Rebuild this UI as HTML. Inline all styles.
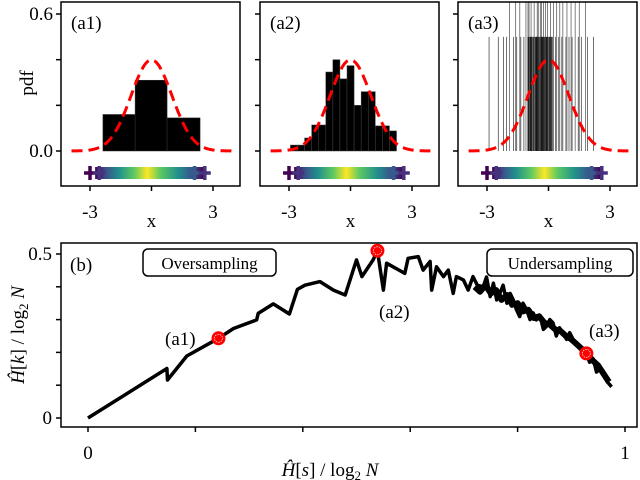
<!DOCTYPE html>
<html><head><meta charset="utf-8"><style>
body{margin:0;background:#fff}
svg{display:block;font-family:"Liberation Serif",serif}
</style></head><body>
<svg id="fig" width="640" height="480" viewBox="0 0 640 480" xmlns="http://www.w3.org/2000/svg">
<defs>
<linearGradient id="vir" x1="0" x2="1" y1="0" y2="0">
<stop offset="0" stop-color="#440154"/><stop offset="0.1" stop-color="#3b528b"/>
<stop offset="0.22" stop-color="#21918c"/><stop offset="0.36" stop-color="#5ec962"/>
<stop offset="0.48" stop-color="#fde725"/><stop offset="0.6" stop-color="#5ec962"/>
<stop offset="0.76" stop-color="#21918c"/><stop offset="0.9" stop-color="#3b528b"/>
<stop offset="1" stop-color="#440154"/></linearGradient>
</defs>
</svg>
<script>
// ---- data ----
const a1Edges=[-2.37,-0.8,0.76,2.37];
const a1Heights=[0.16,0.31,0.145];
const a2Start=-2.93, a2Width=0.345;
const a2Heights=[0.026,0.026,0.057,0.114,0.114,0.346,0.40,0.316,0.374,0.2,0.26,0.26,0.11,0.11,0.088];
const a3Short=[-2.9,-2.45,-2.2,-2.05,-1.7,-1.55,-1.35,-1.2,-0.9,-0.75,-0.6,-0.45,-0.3,-0.2,-0.1,0.05,0.2,0.35,0.5,0.65,0.85,1.0,1.15,1.45,1.6,1.9,2.2];
const a3Tall=[-1.9,-1.6,-1.4,-1.1,-1.0,-0.95,-0.85,-0.7,-0.55,-0.5,-0.4,-0.35,-0.25,-0.15,-0.05,0.1,0.25,0.4,0.55,0.7,0.9,1.1,1.3,1.5,1.8];
const a3Dense=[-1.0,-0.95,-0.88,-0.82,-0.76,-0.7,-0.64,-0.58,-0.52,-0.46,-0.4,-0.34,-0.28,-0.22,-0.16,-0.1,-0.04,0.02,0.08,0.14];
const pdfTicks=[0,0.2,0.4,0.6];
const pdfTickLabels=["0.0","","","0.6"];
const xTicks=[-3,0,3];
const xTickLabels=["-3","","3"];
const curveX=[0,0.147,0.148,0.184,0.243,0.271,0.314,0.317,0.345,0.375,0.39,0.404,0.432,0.457,0.479,0.5,0.51,0.531,0.539,0.55,0.556,0.59,0.596,0.615,0.624,0.637,0.64,0.649,0.662,0.671,0.68,0.686,0.699,0.708,0.717,0.725,0.736,0.742,0.749,0.755,0.761,0.767,0.773,0.78,0.786,0.792,0.798,0.804,0.81,0.817,0.823,0.829,0.835,0.842,0.848,0.854,0.86,0.866,0.872,0.878,0.885,0.891,0.897,0.904,0.91,0.916,0.922,0.928,0.934,0.941,0.947,0.953,0.96,0.967,0.975];
const curveY=[0,0.151,0.116,0.189,0.243,0.273,0.299,0.319,0.348,0.317,0.392,0.405,0.416,0.39,0.375,0.482,0.431,0.482,0.51,0.39,0.472,0.441,0.487,0.492,0.451,0.477,0.39,0.461,0.431,0.451,0.38,0.431,0.421,0.39,0.431,0.405,0.4,0.43,0.37,0.411,0.36,0.38,0.405,0.35,0.38,0.36,0.33,0.309,0.35,0.33,0.30,0.32,0.299,0.31,0.27,0.28,0.30,0.29,0.25,0.275,0.258,0.24,0.26,0.238,0.225,0.22,0.2,0.197,0.17,0.18,0.14,0.15,0.13,0.11,0.095];
const bandX=[0.72,0.73,0.74,0.75,0.76,0.77,0.78,0.79,0.8,0.81,0.82,0.83,0.84,0.85,0.86,0.87,0.88,0.89,0.9,0.91,0.92,0.93,0.94,0.95,0.96,0.97];
const bandY=[0.40,0.385,0.405,0.38,0.39,0.36,0.375,0.345,0.35,0.325,0.33,0.305,0.31,0.29,0.285,0.27,0.265,0.25,0.24,0.225,0.21,0.195,0.175,0.16,0.135,0.11];
const markX=[0.243,0.539,0.928];
const markY=[0.243,0.51,0.197];
const bXTicks=[0,0.2,0.4,0.6,0.8,1];
const bXTickLabels=["0","","","","","1"];
const bYTicks=[0,0.1,0.2,0.3,0.4,0.5];
const bYTickLabels=["0","","","","","0.5"];

const NS="http://www.w3.org/2000/svg";
const svg=document.getElementById('fig');
function mk(tag,attrs,parent,text){const e=document.createElementNS(NS,tag);for(const k in attrs)e.setAttribute(k,attrs[k]);if(text!==undefined)e.textContent=text;(parent||svg).appendChild(e);return e;}

// ---- top panels ----
const panels=[{left:61,name:'a1'},{left:260,name:'a2'},{left:458,name:'a3'}];
const pTop=2,pBot=186,pW=179;
const py=v=>151-v*228.3;
panels.forEach((p,i)=>{
  const g=mk('g',{});
  
  
  const px=v=>p.left+90.5+v*20.5;
  const clip=mk('clipPath',{id:'cl'+i},g);
  mk('rect',{x:p.left,y:pTop,width:pW,height:pBot-pTop},clip);
  const inner=mk('g',{'clip-path':'url(#cl'+i+')'},g);
  if(i===0){a1Heights.forEach((h,k)=>{const r=mk('rect',{x:px(a1Edges[k]),y:py(h),width:px(a1Edges[k+1])-px(a1Edges[k]),height:py(0)-py(h),fill:'#000',stroke:'#333','stroke-width':0.5},inner);
    
    });}
  if(i===1){a2Heights.forEach((h,k)=>{const x0=a2Start+k*a2Width;const r=mk('rect',{x:px(x0),y:py(h),width:px(x0+a2Width)-px(x0),height:py(0)-py(h),fill:'#000',stroke:'#444','stroke-width':0.5},inner);
    
    });}
  if(i===2){
    a3Short.forEach(v=>{const l=mk('line',{x1:px(v),x2:px(v),y1:py(0),y2:py(0.5),stroke:'#000','stroke-width':0.7,'stroke-opacity':0.8},inner);
      
      });
    a3Tall.forEach(v=>{const l=mk('line',{x1:px(v),x2:px(v),y1:py(0),y2:pTop,stroke:'#000','stroke-width':0.7,'stroke-opacity':0.7},inner);
      
      });
    a3Dense.forEach(v=>{const l=mk('line',{x1:px(v),x2:px(v),y1:py(0),y2:py(0.5),stroke:'#111','stroke-width':0.9},inner);
      
      });
  }
  // gaussian
  let d='';for(let x=-3.9;x<=3.9;x+=0.05){const y=Math.exp(-x*x/2)/Math.sqrt(2*Math.PI);d+=(d?'L':'M')+px(x).toFixed(1)+','+py(y).toFixed(1);}
  const gp=mk('path',{d:d,fill:'none',stroke:'#f00','stroke-width':3,'stroke-dasharray':'11,6'},inner);
  
  
  // color band
  const band=mk('rect',{x:px(-2.75),y:167,width:px(2.55)-px(-2.75),height:12,fill:'url(#vir)'},g);
  
  
  [[-3.0,'#440154'],[-2.55,'#46327e'],[2.1,'#365c8d'],[2.6,'#46327e']].forEach(([v,c])=>{
    mk('line',{x1:px(v)-6,x2:px(v)+6,y1:173,y2:173,stroke:c,'stroke-width':3.5},g);
    mk('line',{x1:px(v),x2:px(v),y1:166,y2:180,stroke:c,'stroke-width':3.5},g);
  });
  const fr=mk('rect',{x:p.left,y:pTop,width:pW,height:pBot-pTop,fill:'none',stroke:'#000','stroke-width':1.5},g);
  
  
  pdfTicks.forEach((t,k)=>{mk('line',{x1:p.left-5,x2:p.left,y1:py(t),y2:py(t),stroke:'#000','stroke-width':1.5},g);
    if(i===0&&pdfTickLabels[k]){const tl=mk('text',{x:p.left-8,y:py(t)+6,'text-anchor':'end','font-size':19},g,pdfTickLabels[k]);
      
      }});
  xTicks.forEach((t,k)=>{mk('line',{x1:px(t),x2:px(t),y1:pBot,y2:pBot+5,stroke:'#000','stroke-width':1.5},g);
    if(xTickLabels[k]){const tl=mk('text',{x:px(t),y:218,'text-anchor':'middle','font-size':19},g,xTickLabels[k]);
      
      }});
  const xl=mk('text',{x:px(0),y:227,'text-anchor':'middle','font-size':19},g,'x');
  
  
  const pl=mk('text',{x:p.left+10,y:29,'font-size':19},g,'('+p.name+')');
  
  
});
const pdfl=mk('text',{x:0,y:0,'text-anchor':'middle','font-size':19,transform:'translate(33,83) rotate(-90)'},svg,'pdf');



// ---- bottom panel ----
const bx=v=>88+v*537, by=v=>418-v*328;
const bg=mk('g',{});


let cd='';curveX.forEach((x,k)=>{cd+=(k?'L':'M')+bx(x).toFixed(1)+','+by(curveY[k]).toFixed(1);});
const cp=mk('path',{d:cd,fill:'none',stroke:'#000','stroke-width':3.5,'stroke-linejoin':'round'},bg);


let bd='';bandX.forEach((x,k)=>{bd+=(k?'L':'M')+bx(x).toFixed(1)+','+by(bandY[k]).toFixed(1);});
const bp=mk('path',{d:bd,fill:'none',stroke:'#000','stroke-width':6,'stroke-linejoin':'round'},bg);


markX.forEach((x,k)=>{
  const c=mk('circle',{cx:bx(x),cy:by(markY[k]),r:7,fill:'#f00'},bg);
  
  
  mk('circle',{cx:bx(x),cy:by(markY[k]),r:4,fill:'none',stroke:'#fff','stroke-width':0.7,'stroke-dasharray':'1.5,1'},bg);
});
const bfr=mk('rect',{x:61,y:243,width:576,height:184,fill:'none',stroke:'#000','stroke-width':1.5},bg);


bXTicks.forEach((t,k)=>{mk('line',{x1:bx(t),x2:bx(t),y1:427,y2:432,stroke:'#000','stroke-width':1.5},bg);
  if(bXTickLabels[k]){const tl=mk('text',{x:bx(t),y:459,'text-anchor':'middle','font-size':19},bg,bXTickLabels[k]);
    
    }});
bYTicks.forEach((t,k)=>{mk('line',{x1:56,x2:61,y1:by(t),y2:by(t),stroke:'#000','stroke-width':1.5},bg);
  if(bYTickLabels[k]){const tl=mk('text',{x:52,y:by(t)+6,'text-anchor':'end','font-size':19},bg,bYTickLabels[k]);
    
    }});
function txt(x,y,s,name,extra){const t=mk('text',Object.assign({x:x,y:y,'font-size':19},extra||{}),bg);t.innerHTML=s;return t;}
txt(70,271,'(b)','panel-label');
mk('rect',{x:143,y:249,width:133,height:27,rx:5,fill:'#fff',stroke:'#000','stroke-width':1.5},bg);
txt(209.5,269,'Oversampling','oversampling-label',{'text-anchor':'middle','font-size':17});
mk('rect',{x:487,y:249,width:146,height:27,rx:5,fill:'#fff',stroke:'#000','stroke-width':1.5},bg);
txt(560,269,'Undersampling','undersampling-label',{'text-anchor':'middle','font-size':17});
txt(165,345,'(a1)','annotation-a1');
txt(379,318,'(a2)','annotation-a2');
txt(589,337,'(a3)','annotation-a3');
txt(330,476,'<tspan font-style="italic">Ĥ</tspan>[<tspan font-style="italic">s</tspan>] / log<tspan font-size="13" dy="4">2</tspan><tspan dy="-4" font-style="italic"> N</tspan>','x-axis-title',{'text-anchor':'middle'});
const yl=txt(0,0,'<tspan font-style="italic">Ĥ</tspan>[<tspan font-style="italic">k</tspan>] / log<tspan font-size="13" dy="4">2</tspan><tspan dy="-4" font-style="italic"> N</tspan>','y-axis-title',{'text-anchor':'middle',transform:'translate(24,335) rotate(-90)'});
</script>
</body></html>
